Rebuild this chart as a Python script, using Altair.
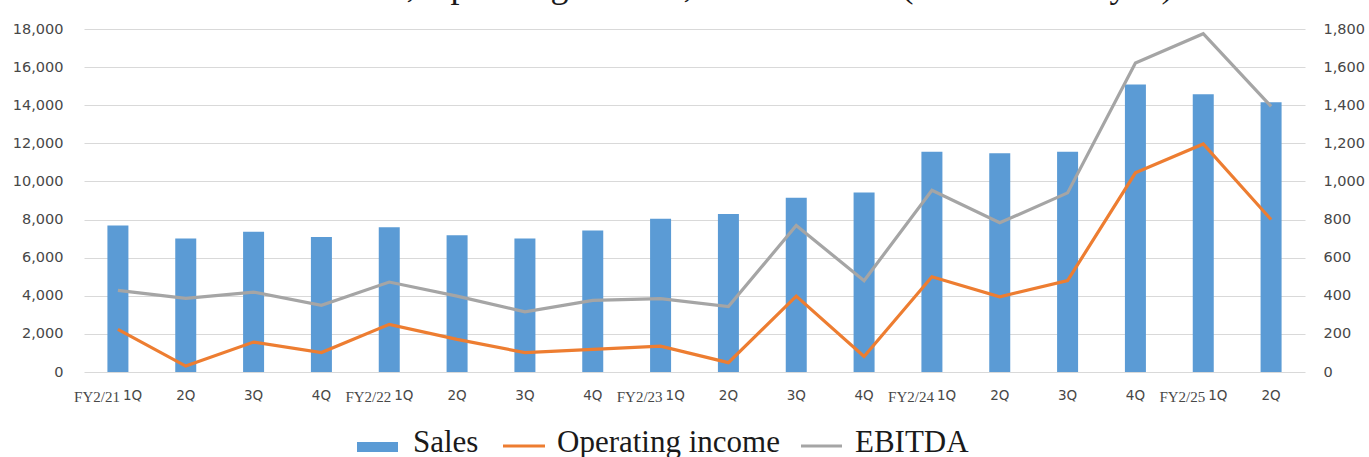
import altair as alt
import pandas as pd

# Quarterly results (millions of yen)
fiscal_years = ["FY2/21", "FY2/21", "FY2/21", "FY2/21",
                "FY2/22", "FY2/22", "FY2/22", "FY2/22",
                "FY2/23", "FY2/23", "FY2/23", "FY2/23",
                "FY2/24", "FY2/24", "FY2/24", "FY2/24",
                "FY2/25", "FY2/25"]
quarters = ["1Q", "2Q", "3Q", "4Q", "1Q", "2Q", "3Q", "4Q", "1Q", "2Q",
            "3Q", "4Q", "1Q", "2Q", "3Q", "4Q", "1Q", "2Q"]
sales = [7690, 7000, 7360, 7080, 7600, 7170, 7000, 7430, 8040, 8290,
         9150, 9420, 11560, 11480, 11560, 15090, 14570, 14150]
operating_income = [224, 31, 157, 102, 250, 171, 102, 119, 136, 49,
                    398, 81, 500, 395, 480, 1045, 1197, 800]
ebitda = [428, 386, 419, 350, 472, 398, 316, 376, 385, 343,
          769, 479, 954, 783, 940, 1621, 1775, 1394]

series_names = ["Sales", "Operating income", "EBITDA"]
series_colors = ["#5B9BD5", "#ED7D31", "#A5A5A5"]
title_text = "Sales, Operating income, and EBITDA (Unit: million yen)"

left_ticks = list(range(0, 18001, 2000))
right_ticks = list(range(0, 1801, 200))

keys = [f"{fy} {q}" for fy, q in zip(fiscal_years, quarters)]
df = pd.DataFrame({
    "key": keys,
    "quarter": quarters,
    "prefix": [fy if q == "1Q" else "" for fy, q in zip(fiscal_years, quarters)],
    "Sales": sales,
    "Operating income": operating_income,
    "EBITDA": ebitda,
})

W, H = 1221, 343
PAD_L, PAD_T = 84, 29
LABEL_COLOR = "#474747"

x_enc = alt.X("key:N", sort=keys,
              scale=alt.Scale(domain=keys, paddingInner=0, paddingOuter=0),
              axis=None)

base = alt.Chart(df)

bars = base.mark_bar(size=21, color=series_colors[0]).encode(
    x=x_enc,
    y=alt.Y("Sales:Q",
            scale=alt.Scale(domain=[0, 18000], nice=False),
            axis=alt.Axis(values=left_ticks, format=",d", title=None,
                          orient="left", domain=False, ticks=False,
                          labelPadding=21, grid=True, gridColor="#D9D9D9",
                          gridWidth=1.2)),
)

# Both profit lines share the secondary (right) axis
lines = base.transform_fold(
    ["Operating income", "EBITDA"], as_=["series", "value"]
).mark_line(strokeWidth=3.2).encode(
    x=x_enc,
    y=alt.Y("value:Q", scale=alt.Scale(domain=[0, 1800], nice=False),
            axis=alt.Axis(values=right_ticks, format=",d", title=None,
                          orient="right", domain=False, ticks=False,
                          labelPadding=18, grid=False)),
    color=alt.Color("series:N",
                    scale=alt.Scale(domain=series_names[1:], range=series_colors[1:]),
                    legend=None),
    detail="series:N",
)

# Category labels: quarter in sans, fiscal-year prefix in serif before 1Q
label_y = H + 24
q_center = base.transform_filter("datum.prefix == ''").mark_text(
    font="DejaVu Sans", fontSize=13.5, color=LABEL_COLOR, baseline="middle",
    align="center").encode(x=x_enc, y=alt.value(label_y), text="quarter:N")
q_first = base.transform_filter("datum.prefix != ''").mark_text(
    font="DejaVu Sans", fontSize=13.5, color=LABEL_COLOR, baseline="middle",
    align="left", dx=5).encode(x=x_enc, y=alt.value(label_y), text="quarter:N")
fy_prefix = base.transform_filter("datum.prefix != ''").mark_text(
    font="Liberation Serif", fontSize=15, color=LABEL_COLOR, baseline="middle",
    align="right", dx=2).encode(x=x_enc, y=alt.value(label_y + 1), text="prefix:N")

# Title sits above the top edge of the canvas
title = alt.Chart(pd.DataFrame({"t": [title_text]})).mark_text(
    font="Liberation Serif", fontSize=36, color="#1a1a1a",
    align="center", baseline="alphabetic").encode(
    x=alt.value(752 - PAD_L), y=alt.value(-3 - PAD_T), text="t:N")

# Legend along the bottom
leg_base_y = 452 - PAD_T
legend_df = pd.DataFrame({"name": series_names})
leg_text_x = [413 - PAD_L, 557 - PAD_L, 855 - PAD_L]
legend_texts = [
    alt.Chart(legend_df).transform_filter(f"datum.name == '{n}'").mark_text(
        font="Liberation Serif", fontSize=31, color="#1a1a1a",
        align="left", baseline="alphabetic").encode(
        x=alt.value(tx), y=alt.value(leg_base_y), text="name:N")
    for n, tx in zip(series_names, leg_text_x)
]
sw_sales = alt.Chart(legend_df).transform_filter("datum.name == 'Sales'").mark_rect(
    color=series_colors[0]).encode(
    x=alt.value(357 - PAD_L), x2=alt.value(398 - PAD_L),
    y=alt.value(442 - PAD_T), y2=alt.value(452 - PAD_T))
sw_op = alt.Chart(legend_df).transform_filter("datum.name == 'Operating income'").mark_rule(
    color=series_colors[1], strokeWidth=3.2).encode(
    x=alt.value(503 - PAD_L), x2=alt.value(545 - PAD_L), y=alt.value(446 - PAD_T))
sw_eb = alt.Chart(legend_df).transform_filter("datum.name == 'EBITDA'").mark_rule(
    color=series_colors[2], strokeWidth=3.2).encode(
    x=alt.value(801 - PAD_L), x2=alt.value(842 - PAD_L), y=alt.value(446 - PAD_T))

chart = alt.layer(
    bars, lines, q_center, q_first, fy_prefix, title,
    sw_sales, sw_op, sw_eb, *legend_texts
).resolve_scale(y="independent").properties(
    width=W, height=H,
    autosize=alt.AutoSizeParams(type="none"),
    padding={"left": PAD_L, "top": PAD_T, "right": 1369 - PAD_L - W,
             "bottom": 457 - PAD_T - H},
    background="white",
).configure_view(stroke=None).configure_axis(
    labelFont="DejaVu Sans", labelFontSize=14.5, labelColor=LABEL_COLOR,
)

chart.save("out.html", embed_options={"renderer": "svg", "actions": False})
